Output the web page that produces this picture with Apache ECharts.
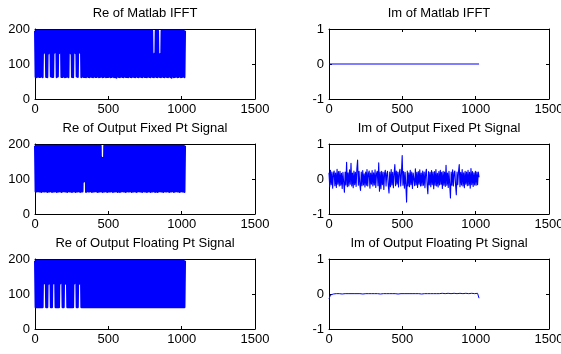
<!DOCTYPE html>
<html>
<head>
<meta charset="utf-8">
<script src="https://cdn.jsdelivr.net/npm/echarts@6/dist/echarts.min.js"></script>
<style>
html, body { margin: 0; padding: 0; background: #fff; }
#main { width: 561px; height: 354px; }
</style>
</head>
<body>
<div id="main"></div>
<script>
// sample values (1024-sample signals, thinned out)
var reMatlab = [
	195,63,195,62,195,64,195,63,195,63,195,64,195,62,195,131,
	195,134,195,63,195,62,195,130,195,133,195,64,195,63,195,63,
	195,132,195,135,195,62,195,64,195,131,195,133,195,63,195,63,
	195,64,195,62,195,63,195,64,195,62,195,132,195,130,195,63,
	195,62,195,134,195,131,195,64,195,63,195,133,195,132,195,62,
	195,64,195,63,195,63,195,62,195,64,195,63,195,62,195,64,
	195,63,195,62,195,64,195,63,195,63,195,64,195,62,195,63,
	195,64,195,62,195,63,195,64,195,62,195,63,195,63,195,64,
	195,62,195,63,195,64,195,62,195,63,195,61,195,64,195,63,
	195,62,195,64,195,63,195,62,195,64,195,63,195,63,195,62,
	195,64,195,63,195,62,195,64,195,63,195,62,195,64,195,63,
	195,62,195,64,195,63,195,62,195,64,195,63,195,63,195,62,
	195,64,195,63,195,62,195,64,195,63,128,62,130,64,195,63,
	195,62,195,64,127,63,129,62,195,64,195,63,195,62,195,64,
	195,63,195,62,195,64,195,63,195,61,195,64,195,62,195,63,
	195,64,195,62,195,63,195,64,195,62,195,63,195,64,195,62,
	195
];
var imMatlab = [0, 0];

var reFixed = [
	195,64,195,64,195,65,195,64,195,64,195,63,195,65,195,64,
	195,64,195,65,195,63,195,64,195,64,195,65,195,63,195,64,
	195,64,195,65,195,63,195,64,195,64,195,65,195,63,195,64,
	195,65,195,64,195,64,195,63,195,65,195,64,195,64,195,63,
	195,64,195,65,195,63,195,64,195,64,195,65,195,63,195,64,
	195,64,195,92,195,94,195,63,195,65,195,64,195,64,195,65,
	195,63,195,64,195,64,195,65,195,64,195,63,195,64,195,64,
	195,65,161,63,160,64,195,64,195,65,195,63,195,64,195,64,
	195,64,195,65,195,63,195,64,195,64,195,65,195,63,195,64,
	195,63,195,64,195,65,195,64,195,64,195,63,195,65,195,64,
	195,64,195,65,195,63,195,64,195,64,195,65,195,63,195,64,
	195,65,195,64,195,64,195,63,195,65,195,64,195,64,195,63,
	195,64,195,65,195,63,195,64,195,64,195,65,195,63,195,64,
	195,63,195,64,195,65,195,64,195,64,195,63,195,65,195,64,
	195,64,195,65,195,63,195,64,195,64,195,65,195,63,195,64,
	195,65,195,64,195,64,195,63,195,65,195,64,195,64,195,63,
	195
];
var imFixed = [
	0.18,-0.22,0.25,-0.16,0.2,-0.26,0.15,0.23,-0.19,0.17,
	-0.24,0.28,-0.15,0.21,-0.2,0.22,-0.18,0.16,-0.27,0.19,
	0.14,-0.38,0.2,-0.17,0.48,-0.22,0.18,-0.2,0.26,-0.15,
	0.45,-0.2,0.17,-0.25,0.23,-0.16,0.19,-0.21,0.3,0.54,
	-0.18,0.22,-0.16,-0.33,0.2,-0.19,0.24,-0.17,0.15,-0.23,
	0.2,-0.18,0.27,-0.2,0.16,0.23,-0.26,0.17,-0.15,0.24,
	-0.2,0.18,-0.17,0.26,-0.24,0.16,0.22,-0.19,0.46,-0.35,
	0.2,-0.28,0.22,-0.16,0.19,-0.3,0.17,0.25,-0.2,0.15,
	0.22,-0.18,-0.4,0.2,-0.22,0.27,-0.17,0.19,-0.25,0.16,
	0.41,-0.19,0.23,-0.15,0.2,-0.23,0.18,0.28,-0.2,0.16,
	0.67,-0.18,0.21,-0.26,0.19,-0.17,-0.66,0.23,-0.2,0.18,
	-0.22,0.25,-0.16,0.2,-0.27,0.17,0.22,-0.19,0.29,-0.17,
	0.19,-0.24,0.21,-0.15,0.26,-0.2,0.17,-0.19,0.23,-0.18,
	0.2,-0.25,0.16,0.28,-0.18,-0.42,0.21,-0.17,0.19,-0.22,
	0.24,-0.16,0.2,-0.28,0.21,-0.18,0.27,-0.2,0.16,-0.23,
	0.21,-0.17,0.25,-0.15,0.19,-0.27,0.22,-0.18,0.2,-0.21,
	0.39,-0.18,0.17,-0.24,0.22,-0.16,-0.54,0.2,-0.18,0.26,
	-0.2,0.17,0.23,-0.18,-0.45,0.2,-0.16,0.21,0.41,-0.22,
	0.19,-0.17,0.27,-0.2,0.18,-0.25,0.22,-0.15,0.2,-0.19,
	0.25,-0.18,0.19,-0.26,0.3,-0.16,0.21,-0.21,0.18,-0.17,
	0.22,-0.18,0.2,-0.16,0.2,0.05
];

var reFloat = [
	195,62,195,62,195,62,195,62,195,62,195,62,195,62,195,130,
	195,131,195,62,195,62,195,129,195,132,195,62,195,62,195,130,
	195,131,195,62,195,62,195,62,195,62,195,130,195,132,195,62,
	195,62,195,129,195,131,195,62,195,62,195,62,195,62,195,62,
	195,62,195,130,195,132,195,62,195,62,195,129,195,131,195,62,
	195,62,195,62,195,62,195,62,195,62,195,62,195,62,195,62,
	195,62,195,62,195,62,195,62,195,62,195,62,195,62,195,62,
	195,62,195,62,195,62,195,62,195,62,195,62,195,62,195,62,
	195,62,195,62,195,62,195,62,195,62,195,62,195,62,195,62,
	195,62,195,62,195,62,195,62,195,62,195,62,195,62,195,62,
	195,62,195,62,195,62,195,62,195,62,195,62,195,62,195,62,
	195,62,195,62,195,62,195,62,195,62,195,62,195,62,195,62,
	195,62,195,62,195,62,195,62,195,62,195,62,195,62,195,62,
	195,62,195,62,195,62,195,62,195,62,195,62,195,62,195,62,
	195,62,195,62,195,62,195,62,195,62,195,62,195,62,195,62,
	195,62,195,62,195,62,195,62,195,62,195,62,195,62,195,62,
	195
];
var imFloat = [
	-0.14,-0.03,0.02,0.0,0.03,0.01,0.04,0.01,0.02,0.0,
	0.03,0.01,0.02,0.01,0.05,0.01,0.02,0.01,0.04,0.01,
	0.04,0.01,0.03,0.0,0.05,0.01,0.03,0.01,0.03,0.01,
	0.02,0.01,0.04,0.01,0.02,0.0,0.04,0.01,0.03,0.01,
	0.04,0.01,0.02,0.01,0.04,0.01,0.02,0.0,0.04,0.01,
	0.03,0.01,0.04,0.01,0.02,0.01,0.04,0.01,0.05,0.01,
	0.03,0.01,0.04,0.0,0.03,0.01,0.02,0.01,0.04,0.01,
	0.03,0.01,0.04,0.01,0.03,0.01,0.05,0.02,0.03,0.01,
	0.04,0.02,0.04,0.01,0.05,0.02,0.03,0.01,0.05,0.02,
	0.04,0.01,0.05,0.02,0.04,0.01,0.05,0.02,0.04,0.01,
	0.05,0.02,-0.12
];

var lastSample = 1023;
var titles = ['Re of Matlab IFFT', 'Im of Matlab IFFT',
	'Re of Output Fixed Pt Signal', 'Im of Output Fixed Pt Signal',
	'Re of Output Floating Pt Signal', 'Im of Output Floating Pt Signal'];
var reAxis = { min: 0, max: 200, interval: 100 };
var imAxis = { min: -1, max: 1, interval: 1 };
var xAxisRange = { min: 0, max: 1500, interval: 500 };

(function(){
	var myChart = echarts.init(document.getElementById('main'));
	var font = 'Liberation Sans, Arial, sans-serif';
	var panels = [
		{ data: reMatlab, y: reAxis, w: 2 }, { data: imMatlab, y: imAxis, w: 1 },
		{ data: reFixed, y: reAxis, w: 2 }, { data: imFixed, y: imAxis, w: 1.1 },
		{ data: reFloat, y: reAxis, w: 2 }, { data: imFloat, y: imAxis, w: 1 }
	];
	var lefts = [35, 329];
	var tops = [29, 144, 259];

	function toPoints(vals) {
		var n = vals.length;
		return vals.map(function (v, i) {
			return [Math.round(i * lastSample / (n - 1)), v];
		});
	}
	function plain(v) { return String(v); }

	var grid = [], xAxis = [], yAxis = [], series = [];
	var line = { show: true, onZero: false, lineStyle: { color: '#000', width: 1 } };
	var tick = { show: true, inside: true, length: 3, lineStyle: { color: '#000' } };

	panels.forEach(function (p, k) {
		grid.push({
			left: lefts[k % 2], top: tops[Math.floor(k / 2)], width: 220, height: 70,
			containLabel: false, outerBoundsMode: 'none'
		});
		// bottom + top x axes (box with ticks on both sides, title as top axis name)
		xAxis.push({
			gridIndex: k, type: 'value', position: 'bottom',
			min: xAxisRange.min, max: xAxisRange.max, interval: xAxisRange.interval,
			axisLine: line, axisTick: tick, splitLine: { show: false },
			axisLabel: { color: '#000', fontSize: 13, margin: 4, fontFamily: font, formatter: plain }
		});
		xAxis.push({
			gridIndex: k, type: 'value', position: 'top',
			min: xAxisRange.min, max: xAxisRange.max, interval: xAxisRange.interval,
			axisLine: line, axisTick: tick, splitLine: { show: false },
			axisLabel: { show: false },
			name: titles[k], nameLocation: 'middle', nameGap: 9,
			nameTextStyle: { color: '#000', fontSize: 13, fontFamily: font }
		});
		yAxis.push({
			gridIndex: k, type: 'value', position: 'left',
			min: p.y.min, max: p.y.max, interval: p.y.interval,
			axisLine: line, axisTick: tick, splitLine: { show: false },
			axisLabel: { color: '#000', fontSize: 13, margin: 5, fontFamily: font, formatter: plain }
		});
		yAxis.push({
			gridIndex: k, type: 'value', position: 'right',
			min: p.y.min, max: p.y.max, interval: p.y.interval,
			axisLine: line, axisTick: tick, splitLine: { show: false },
			axisLabel: { show: false }
		});
		series.push({
			type: 'line',
			xAxisIndex: 2 * k, yAxisIndex: 2 * k,
			data: toPoints(p.data),
			showSymbol: false, symbol: 'none', silent: true,
			lineStyle: { color: '#0000ff', width: p.w, join: 'round' }
		});
	});

	var option = {
		animation: false,
		backgroundColor: '#fff',
		grid: grid,
		xAxis: xAxis,
		yAxis: yAxis,
		series: series
	};
	myChart.setOption(option);
	window.addEventListener("resize", function() {
		myChart.resize();
	});
})();
</script>
</body>
</html>
